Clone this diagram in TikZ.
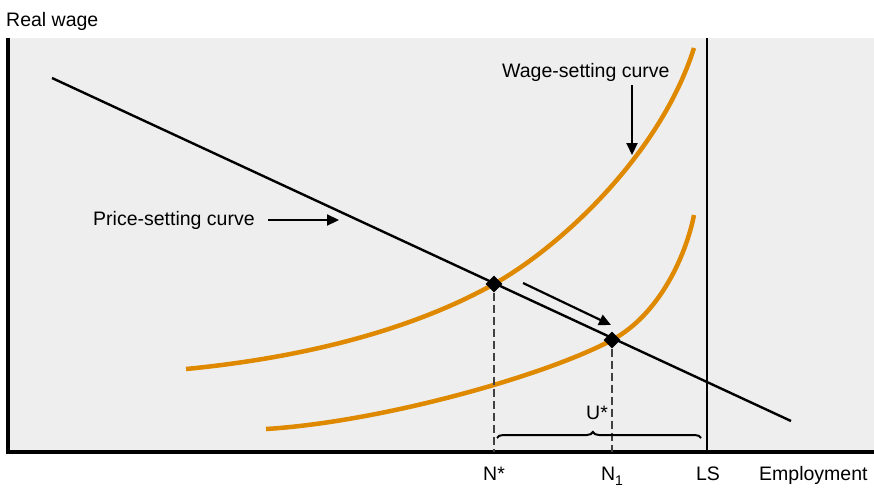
\documentclass[tikz,border=0pt]{standalone}
\usepackage{fontspec}
\setmainfont{Liberation Sans}
\usetikzlibrary{arrows.meta,shapes.geometric,decorations.pathreplacing}
\definecolor{wsorange}{RGB}{222,137,0}
\definecolor{bggray}{RGB}{238,238,238}
\begin{document}
\begin{tikzpicture}[x=1pt,y=-1pt,
  lbl/.style={font=\fontsize{19.5}{22}\selectfont, inner sep=0pt},
  ws/.style={draw=wsorange, line width=4.5pt},
  eqpt/.style={diamond, fill=black, inner sep=0pt, minimum width=17pt, minimum height=17pt},
  pointer/.style={line width=2.2pt, -{Triangle[length=12pt,width=11pt]}},
  guide/.style={draw=black!75, line width=1.2pt, dash pattern=on 8pt off 4pt},
  axisline/.style={line width=3.5pt}]
\useasboundingbox (0,0) rectangle (874,487);
\fill[bggray] (8,38) rectangle (874,452);
% axes
\coordinate (ytop) at (8,38);
\coordinate (origin) at (8,452);
\coordinate (xend) at (874,452);
\draw[axisline] (ytop) -- (origin) -- (xend);
\node[lbl, anchor=base west] (ylabel) at (6,27) {Real wage};
\node[lbl, anchor=base west] (xlabel) at (759,480) {Employment};
% labour supply line
\coordinate (lstop) at (707,38);
\coordinate (lsbot) at (707,452);
\draw[line width=2.4pt] (lstop) -- (lsbot);
% wage-setting curves
\coordinate (wsa1) at (186,369);
\coordinate (wsa2) at (494,284);
\coordinate (wsa3) at (694,48);
\draw[ws] (wsa1) .. controls (330,355) and (430,320) .. (wsa2)
              .. controls (560,247) and (660,155) .. (wsa3);
\coordinate (wsb1) at (266,429);
\coordinate (wsb2) at (612,340);
\coordinate (wsb3) at (694,215);
\draw[ws] (wsb1) .. controls (380,422) and (545,376) .. (wsb2)
              .. controls (660,314) and (686,255) .. (wsb3);
% price-setting line
\coordinate (ps1) at (52,78);
\coordinate (ps2) at (791,421);
\draw[line width=2.4pt] (ps1) -- (ps2);
% equilibria
\node[eqpt] (eq1) at (494,284) {};
\node[eqpt] (eq2) at (612,340) {};
\draw[guide] (eq1) -- (eq1 |- origin);
\draw[guide] (eq2) -- (eq2 |- origin);
% movement arrow
\coordinate (mv1) at (523,283);
\coordinate (mv2) at (611,325);
\draw[pointer] (mv1) -- (mv2);
% labels with pointers
\node[lbl, anchor=base west] (pslabel) at (93,225) {Price-setting curve};
\coordinate (psarrowstart) at (268,220);
\coordinate (psarrowend) at (339,220);
\draw[pointer] (psarrowstart) -- (psarrowend);
\node[lbl, anchor=base west] (wslabel) at (502,77) {Wage-setting curve};
\coordinate (wsarrowstart) at (632,85);
\coordinate (wsarrowend) at (632,155);
\draw[pointer] (wsarrowstart) -- (wsarrowend);
% brace
\coordinate (br1) at (497,438);
\coordinate (br2) at (701,438);
\draw[line width=2pt, decorate, decoration={brace, amplitude=6pt, aspect=0.47}] (br1) -- (br2);
\node[lbl, anchor=base] (ulabel) at (597,419) {U*};
% axis tick labels
\node[lbl, anchor=base] (nstar) at (494,480) {N*};
\node[lbl, anchor=base] (none) at (612,480) {N\raisebox{-5pt}{\fontsize{14}{16}\selectfont 1}};
\node[lbl, anchor=base] (lslabel) at (708,480) {LS};
\end{tikzpicture}
\end{document}
